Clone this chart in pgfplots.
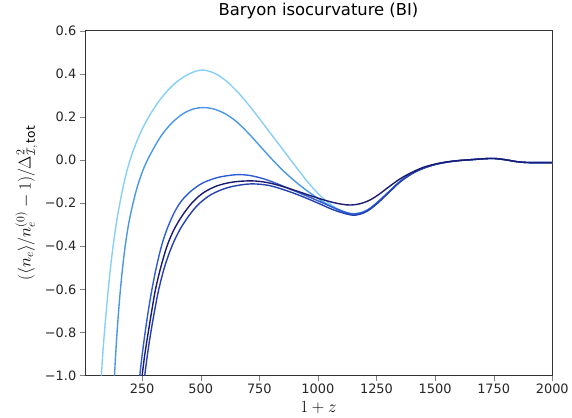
\documentclass[border=0pt]{standalone}
\usepackage{fontspec}
\setmainfont{DejaVu Sans}
\usepackage{pgfplots}
\pgfplotsset{compat=1.18}
\definecolor{cLB}{HTML}{87CEFA}
\definecolor{cMB}{HTML}{4A97E8}
\definecolor{cRB}{HTML}{2E5CD6}
\definecolor{cNV}{HTML}{1A1A6E}
\definecolor{cDB}{HTML}{2440B0}
\begin{document}
\begin{tikzpicture}
\begin{axis}[
  scale only axis, width=469bp, height=346bp,
  xmin=5, xmax=2000, ymin=-1.0, ymax=0.6,
  xtick={250,500,750,1000,1250,1500,1750,2000},
  xticklabels={250,500,750,1000,1250,1500,1750,2000},
  ytick={-1,-0.8,-0.6,-0.4,-0.2,0,0.2,0.4,0.6},
  yticklabels={−1.0,−0.8,−0.6,−0.4,−0.2,0.0,0.2,0.4,0.6},
  tick align=outside, xtick pos=bottom, ytick pos=left,
  major tick length=5bp,
  tick label style={font=\fontsize{13}{15}\selectfont, text=black!85},
  title={Baryon isocurvature (BI)},
  title style={font=\fontsize{16.5}{19}\selectfont, yshift=2bp},
  xlabel={$1+z$},
  ylabel={$(\langle n_e\rangle/n_e^{(0)}-1)/\Delta^2_{\mathcal{I},\,\mathrm{tot}}$},
  label style={font=\fontsize{17.5}{20}\selectfont},
  xlabel style={yshift=-1bp},
  ylabel style={yshift=1bp},
  axis line style={black!80},
  clip=true,
  every axis plot/.append style={line width=1.4pt, smooth, tension=0.55},
]
% light sky blue
\addplot[cLB] coordinates {
(76,-1.0) (82,-0.9) (89,-0.8) (97,-0.7) (105.5,-0.6) (115,-0.5) (126,-0.4) (139,-0.3)
(155,-0.2) (174,-0.1) (197,-0.005) (225,0.08) (258,0.16) (298,0.235) (345,0.305)
(395,0.36) (448,0.398) (502,0.417) (555,0.404) (605,0.37) (655,0.318) (705,0.255)
(755,0.185) (805,0.113) (855,0.042) (905,-0.03) (955,-0.1) (1005,-0.16) (1055,-0.207)
(1100,-0.235) (1140,-0.248) (1175,-0.247) (1210,-0.233) (1250,-0.2) (1300,-0.15)
(1350,-0.1) (1400,-0.063) (1450,-0.038) (1500,-0.021) (1550,-0.01) (1600,-0.003)
(1650,0.001) (1700,0.005) (1750,0.007) (1800,0.001) (1850,-0.008) (1900,-0.012) (2000,-0.012)
};
% medium blue
\addplot[cMB] coordinates {
(132,-1.0) (136,-0.92) (142,-0.815) (149,-0.71) (157,-0.605) (166,-0.505) (177,-0.405)
(191,-0.305) (209,-0.21) (232,-0.115) (260,-0.03) (292,0.04) (330,0.11) (375,0.17)
(425,0.215) (470,0.237) (508,0.243) (550,0.238) (600,0.217) (650,0.18) (700,0.128)
(750,0.068) (800,0.008) (850,-0.048) (900,-0.097) (950,-0.14) (1000,-0.178) (1050,-0.212)
(1100,-0.238) (1140,-0.249) (1175,-0.247) (1210,-0.233) (1250,-0.2) (1300,-0.15)
(1350,-0.1) (1400,-0.063) (1450,-0.038) (1500,-0.021) (1550,-0.01) (1600,-0.003)
(1650,0.001) (1700,0.005) (1750,0.007) (1800,0.001) (1850,-0.008) (1900,-0.012) (2000,-0.012)
};
% royal blue
\addplot[cRB] coordinates {
(240,-1.0) (250,-0.905) (264,-0.79) (277,-0.695) (292,-0.599) (312,-0.491) (335,-0.39)
(360,-0.31) (390,-0.238) (420,-0.187) (460,-0.143) (510,-0.106) (570,-0.082) (620,-0.072)
(661,-0.068) (710,-0.072) (770,-0.088) (830,-0.112) (890,-0.139) (950,-0.166) (1010,-0.194)
(1075,-0.225) (1140,-0.25) (1175,-0.248) (1210,-0.234) (1250,-0.201) (1300,-0.151)
(1350,-0.1) (1400,-0.063) (1450,-0.038) (1500,-0.021) (1550,-0.01) (1600,-0.003)
(1650,0.001) (1700,0.005) (1750,0.007) (1800,0.001) (1850,-0.008) (1900,-0.012) (2000,-0.012)
};
% dark blue (lowest)
\addplot[cDB] coordinates {
(261,-1.0) (273,-0.9) (287,-0.8) (303,-0.7) (321,-0.6) (346,-0.495) (377,-0.4) (410,-0.325)
(450,-0.258) (491,-0.205) (545,-0.16) (610,-0.13) (670,-0.116) (724,-0.111) (790,-0.118)
(860,-0.14) (930,-0.168) (1000,-0.2) (1070,-0.233) (1140,-0.255) (1175,-0.253)
(1210,-0.238) (1250,-0.205) (1300,-0.154) (1350,-0.103) (1400,-0.065) (1450,-0.039)
(1500,-0.021) (1550,-0.01) (1600,-0.003) (1650,0.001) (1700,0.005) (1750,0.007)
(1800,0.001) (1850,-0.008) (1900,-0.012) (2000,-0.012)
};
% navy
\addplot[cNV] coordinates {
(250,-1.0) (261,-0.905) (276,-0.8) (291,-0.7) (307,-0.6) (329,-0.5) (356,-0.4) (385,-0.325)
(420,-0.26) (462,-0.2) (510,-0.153) (570,-0.12) (640,-0.102) (717,-0.097) (780,-0.104)
(840,-0.12) (910,-0.144) (980,-0.17) (1050,-0.193) (1100,-0.205) (1140,-0.209)
(1180,-0.203) (1220,-0.187) (1260,-0.16) (1300,-0.127) (1350,-0.088) (1400,-0.058)
(1450,-0.034) (1500,-0.019) (1550,-0.009) (1600,-0.003) (1650,0.001) (1700,0.005)
(1750,0.007) (1800,0.001) (1850,-0.008) (1900,-0.012) (2000,-0.012)
};
\end{axis}
\path (current axis.south west) ++(-85bp,0pt);
\end{tikzpicture}
\end{document}
